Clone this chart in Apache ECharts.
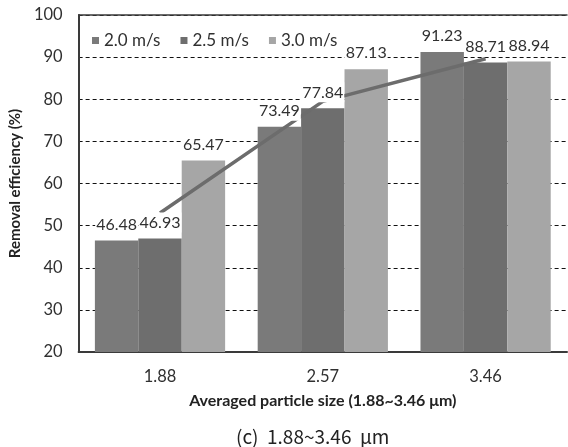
<!DOCTYPE html>
<html>
<head>
<meta charset="utf-8">
<script src="https://cdn.jsdelivr.net/npm/echarts@6/dist/echarts.min.js"></script>
<style>
  html, body { margin: 0; padding: 0; background: #fff; }
  #chart { width: 568px; height: 447px; }
</style>
</head>
<body>
<div id="chart"></div>
<script>
// Particle size classes (µm) on the x axis
const categories = ['1.88', '2.57', '3.46'];
// Removal efficiency (%) per filtration velocity
const eff20 = [46.48, 73.49, 91.23];
const eff25 = [46.93, 77.84, 88.71];
const eff30 = [65.47, 87.13, 88.94];
// Mean efficiency trend across the three velocities
const trend = [53.0, 79.5, 89.6];
const seriesNames = ['2.0 m/s', '2.5 m/s', '3.0 m/s'];
const yTicks = { min: 20, max: 100, step: 10 };

const barColors = ['#7a7a7a', '#6e6e6e', '#a6a6a6'];
const textColor = '#303030';
const font = 'Lato';

const chart = echarts.init(document.getElementById('chart'), null, { renderer: 'canvas' });

const values = [eff20, eff25, eff30];

const barSeries = values.map((v, i) => ({
  name: seriesNames[i],
  type: 'bar',
  xAxisIndex: 0,
  data: v,
  barGap: '0%',
  barCategoryGap: '20%',
  itemStyle: { color: barColors[i] },
  z: 2,
  silent: true
}));

// Value labels drawn on a twin axis so their white boxes sit above the trend line
const labelSeries = values.map((v, i) => ({
  name: 'label-' + seriesNames[i],
  type: 'bar',
  xAxisIndex: 1,
  data: v,
  barGap: '0%',
  barCategoryGap: '20%',
  itemStyle: { color: 'rgba(0,0,0,0)' },
  z: 4,
  silent: true,
  label: {
    show: true,
    position: 'top',
    distance: 6,
    fontFamily: font,
    fontSize: 16,
    color: textColor,
    backgroundColor: '#ffffff',
    padding: [2, 1, 2, 1],
    formatter: p => p.value.toFixed(2)
  }
}));

const option = {
  animation: false,
  backgroundColor: '#ffffff',
  title: {
    text: '(c)  1.88~3.46  μm',
    left: 231,
    top: 422,
    textStyle: {
      fontFamily: '"Noto Sans CJK KR", sans-serif',
      fontWeight: 'normal',
      fontSize: 19,
      color: '#222222'
    }
  },
  legend: {
    data: seriesNames,
    left: 88,
    top: 30,
    icon: 'rect',
    itemWidth: 7,
    itemHeight: 7,
    itemGap: 20,
    padding: [2, 4],
    textStyle: { fontFamily: font, fontSize: 17, color: textColor }
  },
  grid: { left: 72, right: 1, top: 15, bottom: 95, containLabel: false },
  xAxis: [
    {
      type: 'category',
      data: categories,
      position: 'bottom',
      axisLine: { show: true, lineStyle: { color: '#3a3a3a', width: 2 } },
      axisTick: { show: false },
      axisLabel: { margin: 16, fontFamily: font, fontSize: 16.5, color: textColor },
      name: 'Averaged particle size (1.88~3.46 μm)',
      nameLocation: 'middle',
      nameGap: 41,
      nameTextStyle: { fontFamily: font, fontWeight: 'bold', fontSize: 16, color: '#222222' }
    },
    {
      type: 'category',
      data: categories,
      position: 'top',
      axisLine: { show: true, lineStyle: { color: '#3a3a3a', width: 1.5 } },
      axisTick: { show: false },
      axisLabel: { show: false }
    }
  ],
  yAxis: {
    type: 'value',
    min: yTicks.min,
    max: yTicks.max,
    interval: yTicks.step,
    axisLine: { show: true, lineStyle: { color: '#3a3a3a', width: 2 } },
    axisTick: { show: false },
    axisLabel: { margin: 16, fontFamily: font, fontSize: 16.5, color: textColor },
    splitLine: { show: true, lineStyle: { color: '#111111', width: 1, type: [4, 3] } },
    name: 'Removal efficiency (%)',
    nameLocation: 'middle',
    nameGap: 46,
    nameTextStyle: { fontFamily: font, fontWeight: 'bold', fontSize: 15, color: '#222222' }
  },
  series: [
    ...barSeries,
    {
      name: 'trend',
      type: 'line',
      xAxisIndex: 0,
      data: trend,
      symbol: 'none',
      lineStyle: { color: '#6c6c6c', width: 3.5 },
      z: 3,
      silent: true
    },
    ...labelSeries
  ]
};

chart.setOption(option);
</script>
</body>
</html>
